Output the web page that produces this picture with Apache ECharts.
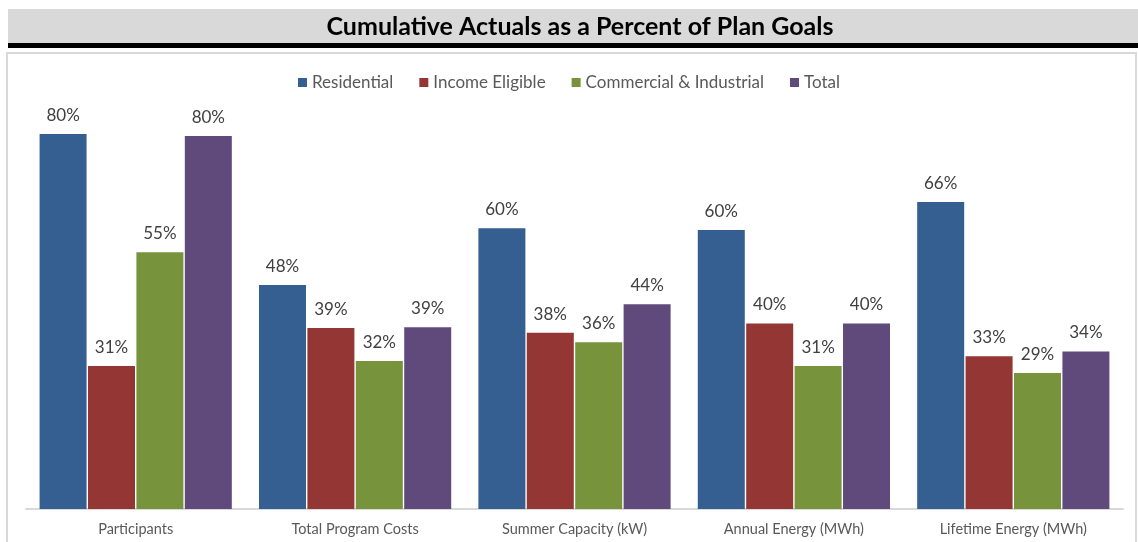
<!DOCTYPE html>
<html>
<head>
<meta charset="utf-8">
<script src="https://cdn.jsdelivr.net/npm/echarts@6/dist/echarts.min.js"></script>
<style>
html,body{margin:0;padding:0;background:#fff;}
#chart{width:1138px;height:542px;}
</style>
</head>
<body>
<div id="chart"></div>
<script>
const categories = ['Participants', 'Total Program Costs', 'Summer Capacity (kW)', 'Annual Energy (MWh)', 'Lifetime Energy (MWh)'];
const seriesNames = ['Residential', 'Income Eligible', 'Commercial & Industrial', 'Total'];
const residential = [80.0, 47.8, 59.9, 59.5, 65.5];
const incomeEligible = [30.5, 38.6, 37.6, 39.6, 32.6];
const commercialIndustrial = [54.8, 31.6, 35.6, 30.5, 29.0];
const total = [79.6, 38.8, 43.7, 39.6, 33.6];
const colors = ['#355f91', '#943634', '#77933c', '#604a7b'];
const values = [residential, incomeEligible, commercialIndustrial, total];

const font = 'Lato, "Open Sans", sans-serif';
const chart = echarts.init(document.getElementById('chart'));
chart.setOption({
  animation: false,
  graphic: [
    {type: 'rect', shape: {x: 8, y: 9, width: 1130, height: 34}, style: {fill: '#d9d9d9'}, z: 0},
    {type: 'rect', shape: {x: 8, y: 43, width: 1130, height: 5}, style: {fill: '#000'}, z: 0},
    {type: 'rect', shape: {x: 7, y: 53, width: 1129, height: 500}, style: {fill: 'none', stroke: '#d9d9d9', lineWidth: 2}, z: 0},
    {type: 'text', x: 580, y: 27, style: {text: 'Cumulative Actuals as a Percent of Plan Goals', font: 'bold 25px ' + font, fill: '#000', textAlign: 'center', textVerticalAlign: 'middle'}, z: 5}
  ],
  legend: {
    top: 69,
    left: 'center',
    itemWidth: 9,
    itemHeight: 9,
    itemGap: 26,
    icon: 'rect',
    textStyle: {fontFamily: font, fontSize: 17, color: '#595959'},
    data: seriesNames
  },
  grid: {left: 26, right: 15, top: 134, bottom: 33},
  xAxis: {
    type: 'category',
    data: categories,
    axisLine: {lineStyle: {color: '#d9d9d9', width: 2}},
    axisTick: {show: false},
    axisLabel: {fontFamily: font, fontSize: 14.5, color: '#595959', margin: 13}
  },
  yAxis: {type: 'value', min: 0, max: 80, show: false, splitLine: {show: false}},
  series: values.map((v, i) => ({
    name: seriesNames[i],
    type: 'bar',
    data: v,
    barWidth: 47,
    barGap: '3%',
    itemStyle: {color: colors[i]},
    label: {
      show: true,
      position: 'top',
      distance: 10,
      fontFamily: font,
      fontSize: 17,
      color: '#404040',
      formatter: p => Math.round(p.value) + '%'
    }
  }))
});
</script>
</body>
</html>
